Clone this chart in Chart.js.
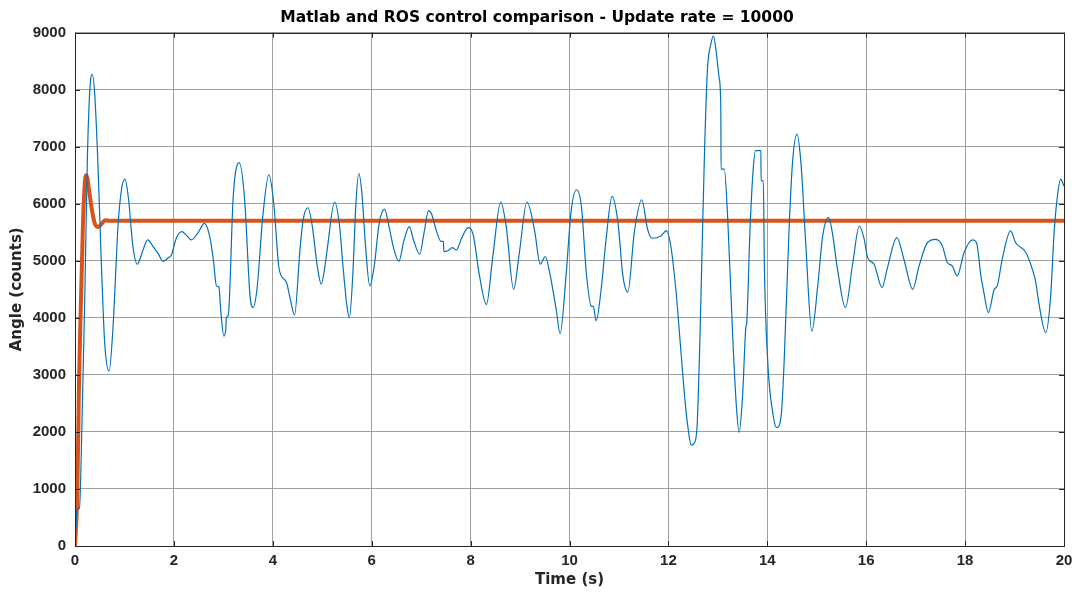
<!DOCTYPE html>
<html>
<head>
<meta charset="utf-8">
<script src="https://cdn.jsdelivr.net/npm/chart.js@4.4.0/dist/chart.umd.min.js"></script>
<style>
  html, body { margin: 0; padding: 0; background: #ffffff; }
  canvas { display: block; }
</style>
</head>
<body>
<canvas id="chart" width="1074" height="592"></canvas>
<script>
// Axis ticks
const timeTicks = [0, 2, 4, 6, 8, 10, 12, 14, 16, 18, 20];
const angleTicks = [0, 1000, 2000, 3000, 4000, 5000, 6000, 7000, 8000, 9000];

// ROS measured response: time (s) and angle (counts)
const rosTime = [
  0, 0.04, 0.09, 0.14, 0.20, 0.25, 0.30, 0.35, 0.40, 0.46, 0.53, 0.60, 0.69, 0.77, 0.87, 0.94,
  1.01, 1.08, 1.17, 1.26, 1.36, 1.47, 1.58, 1.62, 1.68, 1.78, 1.88, 1.95, 2.05, 2.16, 2.25, 2.35,
  2.48, 2.62, 2.73, 2.80, 2.86, 2.91, 2.95, 3.01, 3.05, 3.06, 3.10, 3.20, 3.32, 3.43, 3.54, 3.60,
  3.68, 3.80, 3.92, 4.02, 4.12, 4.17, 4.28, 4.36, 4.44, 4.55, 4.61, 4.71, 4.80, 4.90, 4.98, 5.05,
  5.10, 5.25, 5.35, 5.42, 5.50, 5.55, 5.62, 5.68, 5.74, 5.80, 5.88, 5.96, 6.05, 6.15, 6.26, 6.35,
  6.45, 6.55, 6.65, 6.76, 6.85, 6.97, 7.06, 7.15, 7.21, 7.30, 7.40, 7.45, 7.46, 7.55, 7.63, 7.71,
  7.82, 7.95, 8.05, 8.18, 8.32, 8.45, 8.61, 8.72, 8.87, 8.98, 9.14, 9.29, 9.41, 9.51, 9.60, 9.73,
  9.81, 9.93, 10.03, 10.14, 10.24, 10.34, 10.44, 10.48, 10.54, 10.64, 10.74, 10.86, 10.98, 11.08, 11.18, 11.31,
  11.46, 11.58, 11.67, 11.85, 11.96, 12.05, 12.15, 12.25, 12.34, 12.40, 12.46, 12.52, 12.58, 12.63, 12.67, 12.73,
  12.79, 12.86, 12.91, 12.96, 13.03, 13.06, 13.065, 13.13, 13.20, 13.30, 13.37, 13.43, 13.50, 13.57, 13.58, 13.65,
  13.71, 13.76, 13.87, 13.875, 13.92, 13.94, 14.01, 14.11, 14.19, 14.28, 14.34, 14.44, 14.51, 14.60, 14.68, 14.78,
  14.90, 15.02, 15.12, 15.24, 15.31, 15.42, 15.58, 15.73, 15.86, 15.96, 16.03, 16.16, 16.32, 16.43, 16.62, 16.77,
  16.94, 17.07, 17.24, 17.41, 17.54, 17.64, 17.74, 17.84, 17.98, 18.15, 18.23, 18.32, 18.38, 18.47, 18.59, 18.65,
  18.75, 18.92, 19.02, 19.23, 19.36, 19.43, 19.49, 19.63, 19.73, 19.80, 19.86, 19.93, 20.00
];
const rosAngle = [
  0, 640, 660, 2100, 4440, 6780, 8000, 8270, 7900, 6780, 5025, 3565, 3067, 3855, 5610, 6250,
  6430, 6100, 5260, 4940, 5150, 5365, 5250, 5200, 5130, 4990, 5050, 5100, 5400, 5510, 5450, 5365,
  5480, 5655, 5400, 5000, 4560, 4540, 4100, 3680, 3800, 4000, 4050, 6135, 6720, 6080, 4380, 4180,
  4500, 5800, 6505, 6000, 4900, 4740, 4610, 4300, 4050, 5200, 5700, 5930, 5600, 4900, 4590, 4880,
  5200, 6030, 5610, 4900, 4200, 4000, 4800, 6000, 6530, 6200, 5200, 4560, 4900, 5650, 5905, 5600,
  5200, 4990, 5350, 5600, 5350, 5115, 5500, 5880, 5820, 5550, 5340, 5340, 5160, 5180, 5230, 5185,
  5400, 5580, 5465, 4735, 4235, 5085, 6030, 5600, 4500, 5100, 6030, 5550, 4940, 5075, 4790, 4150,
  3720, 4735, 5845, 6245, 5960, 4790, 4205, 4200, 3950, 4500, 5375, 6130, 5670, 4735, 4450, 5495,
  6070, 5550, 5395, 5435, 5530, 5250, 4500, 3450, 2510, 2050, 1770, 1800, 2100, 3390, 4790, 6900,
  8360, 8800, 8940, 8710, 8185, 7660, 6605, 6605, 5730, 3680, 2510, 1990, 2630, 3855, 3880, 5550,
  6545, 6930, 6930, 6400, 6400, 4970, 3215, 2335, 2075, 2280, 3215, 5550, 6720, 7220, 6720, 5260,
  3760, 4560, 5435, 5760, 5520, 4850, 4180, 4970, 5610, 5375, 5055, 4940, 4530, 4880, 5405, 5000,
  4500, 4910, 5320, 5375, 5260, 4970, 4910, 4735, 5145, 5365, 5320, 4735, 4440, 4090, 4500, 4560,
  5025, 5525, 5320, 5145, 4850, 4620, 4265, 3740, 4380, 5495, 6080, 6430, 6310
];

// Matlab simulated response: time (s) and angle (counts)
const matlabTime = [0, 0.047, 0.08, 0.107, 0.16, 0.19, 0.22, 0.25, 0.29, 0.34, 0.40, 0.47, 0.54, 0.61, 0.70, 20];
const matlabAngle = [0, 940, 2800, 3860, 5610, 6250, 6500, 6450, 6200, 5900, 5650, 5590, 5650, 5710, 5700, 5700];

const toPoints = (xs, ys) => xs.map((x, i) => ({ x: x, y: ys[i] }));

const TICK_FONT = '"Liberation Sans", Arial, Helvetica, sans-serif';
const LABEL_FONT = '"DejaVu Sans", "Liberation Sans", Arial, sans-serif';
const INK = '#262626';

// Box around the axes with short inward tick marks on every side
const axesBox = {
  id: 'axesBox',
  afterDatasetsDraw(chart) {
    const { ctx, chartArea: a, scales } = chart;
    ctx.save();
    ctx.strokeStyle = INK;
    ctx.lineWidth = 1;
    ctx.beginPath();
    const len = 5;
    scales.x.ticks.forEach(t => {
      const px = Math.round(scales.x.getPixelForValue(t.value)) + 0.5;
      ctx.moveTo(px, a.bottom); ctx.lineTo(px, a.bottom - len);
      ctx.moveTo(px, a.top); ctx.lineTo(px, a.top + len);
    });
    scales.y.ticks.forEach(t => {
      const py = Math.round(scales.y.getPixelForValue(t.value)) + 0.5;
      ctx.moveTo(a.left, py); ctx.lineTo(a.left + len, py);
      ctx.moveTo(a.right, py); ctx.lineTo(a.right - len, py);
    });
    ctx.stroke();
    ctx.strokeRect(Math.round(a.left) + 0.5, Math.round(a.top) + 0.5,
                   Math.round(a.right - a.left), Math.round(a.bottom - a.top));
    ctx.restore();
  }
};

new Chart(document.getElementById('chart'), {
  type: 'line',
  data: {
    datasets: [
      {
        label: 'ROS',
        data: toPoints(rosTime, rosAngle),
        borderColor: '#0072BD',
        borderWidth: 1.2,
        pointRadius: 0,
        fill: false,
        cubicInterpolationMode: 'monotone'
      },
      {
        label: 'Matlab',
        data: toPoints(matlabTime, matlabAngle),
        borderColor: '#D95319',
        borderWidth: 4,
        pointRadius: 0,
        fill: false,
        cubicInterpolationMode: 'monotone'
      }
    ]
  },
  options: {
    responsive: false,
    animation: false,
    events: [],
    layout: { padding: { left: 0, right: 0, top: 0, bottom: 0 } },
    plugins: {
      legend: { display: false },
      tooltip: { enabled: false },
      title: {
        display: true,
        text: 'Matlab and ROS control comparison - Update rate = 10000',
        color: '#000000',
        font: { family: LABEL_FONT, size: 15.5, weight: 'bold' },
        padding: { top: 9, bottom: 5 }
      }
    },
    scales: {
      x: {
        type: 'linear',
        min: 0,
        max: 20,
        afterBuildTicks: s => { s.ticks = timeTicks.map(v => ({ value: v })); },
        afterFit: s => { s.height = 46; s.paddingRight = 10; },
        ticks: {
          color: INK,
          font: { family: TICK_FONT, size: 15, weight: 'bold' },
          padding: 6,
          maxRotation: 0,
          callback: v => String(v)
        },
        grid: { color: '#a0a0a0', lineWidth: 1, drawTicks: false },
        border: { display: false },
        title: {
          display: true,
          text: 'Time (s)',
          color: INK,
          font: { family: LABEL_FONT, size: 15, weight: 'bold' },
          padding: { top: 0, bottom: 3 }
        }
      },
      y: {
        type: 'linear',
        min: 0,
        max: 9000,
        afterBuildTicks: s => { s.ticks = angleTicks.map(v => ({ value: v })); },
        afterFit: s => { s.width = 75; },
        ticks: {
          color: INK,
          font: { family: TICK_FONT, size: 15, weight: 'bold' },
          padding: 9,
          callback: v => String(v)
        },
        grid: { color: '#a0a0a0', lineWidth: 1, drawTicks: false },
        border: { display: false },
        title: {
          display: true,
          text: 'Angle (counts)',
          color: INK,
          font: { family: LABEL_FONT, size: 15, weight: 'bold' },
          padding: { top: 8, bottom: 0 }
        }
      }
    }
  },
  plugins: [axesBox]
});
</script>
</body>
</html>
